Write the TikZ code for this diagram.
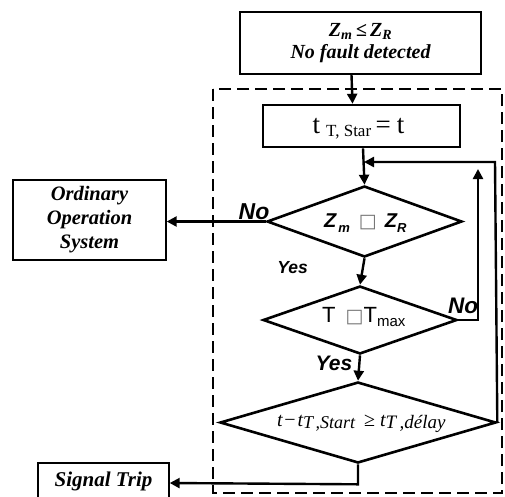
\documentclass[tikz,border=0pt]{standalone}
\usepackage{fontspec}
\setmainfont{Liberation Serif}
\newfontfamily\arial{Liberation Sans}
\newfontfamily\dejavu{DejaVu Sans}
\usetikzlibrary{shapes.geometric,arrows.meta,calc}
\newcommand{\graysq}[1]{{\dejavu\mdseries\upshape\fontsize{#1}{#1}\selectfont\textcolor{black!55}{□}}}
\begin{document}
\begin{tikzpicture}[x=1pt,y=-1pt,
  box/.style={draw,rectangle,inner sep=0pt,align=center},
  dia/.style={draw,diamond,inner sep=0pt,line width=2.6pt},
  arr/.style={line width=2.4pt,-{Triangle[length=10pt,width=10pt]}},
  lab/.style={inner sep=0pt},
  txt/.style={inner sep=0pt,anchor=base west},
  serifbi/.style={font=\fontsize{20}{22}\selectfont\bfseries\itshape}]
\useasboundingbox (0,0) rectangle (505,496);
% dashed frame
\draw[line width=1.8pt,dash pattern=on 12pt off 6pt] (213,89) rectangle (502,493);
% nodes
\node[box,line width=1.6pt,minimum width=241pt,minimum height=62pt,serifbi] (top) at (360.5,43)
  {Z\textsubscript{m}\,≤\,Z\textsubscript{R}\\No fault detected};
\node[box,line width=2.6pt,minimum width=197pt,minimum height=42pt] (tb) at (361.5,126) {};
\node[txt,font=\fontsize{27}{28}\selectfont] (tbt) at (312.5,133)
  {t\hspace{6pt}\raisebox{-3pt}{\fontsize{17}{18}\selectfont T, Star}\hspace{4.5pt}=\hspace{6pt}t};
\node[dia,minimum width=195pt,minimum height=71pt] (d1) at (364.5,221.5) {};
\node[txt,font=\fontsize{20}{21}\selectfont\arial\bfseries\itshape] (d1t) at (324,227)
  {Z\hspace{2pt}\raisebox{-5pt}{\fontsize{13}{14}\selectfont m}\hspace{9pt}\graysq{19}\hspace{8pt}Z\raisebox{-5pt}{\fontsize{13}{14}\selectfont R}};
\node[dia,minimum width=194pt,minimum height=68pt] (d2) at (360,320) {};
\node[txt,font=\fontsize{22}{23}\selectfont\arial] (d2t) at (322,322)
  {T\hspace{10pt}\graysq{19}T\raisebox{-4pt}{\fontsize{15}{16}\selectfont max}};
\node[dia,minimum width=276pt,minimum height=81pt] (d3) at (358,422.5) {};
\node[txt,font=\fontsize{20}{21}\selectfont\itshape] (d3t) at (277,426)
  {t\hspace{1.5pt}{\upshape −}\hspace{2pt}t\raisebox{-2.5pt}{\fontsize{18}{19}\selectfont T\hspace{2.5pt},Start}\hspace{9pt}{\upshape ≥}\hspace{5pt}t\raisebox{-2.5pt}{\fontsize{19}{20}\selectfont T\hspace{3.5pt},délay}};
\node[box,line width=1.4pt,minimum width=153pt,minimum height=80pt,font=\fontsize{20.5}{24}\selectfont\bfseries\itshape] (ord) at (89.5,220)
  {Ordinary\\Operation\\System};
\node[box,line width=1.4pt,minimum width=131pt,minimum height=37pt,font=\fontsize{21}{22}\selectfont\bfseries\itshape] (sig) at (103.5,481.5)
  {\raisebox{3pt}{Signal Trip}};
% labels
\node[lab,font=\arial\bfseries\itshape\fontsize{23}{24}\selectfont] (no1) at (254,212) {No};
\node[lab,font=\arial\bfseries\itshape\fontsize{17.5}{18}\selectfont] (yes1) at (292.5,268) {Yes};
\node[lab,font=\arial\bfseries\itshape\fontsize{22.5}{24}\selectfont] (no2) at (463,306) {No};
\node[lab,font=\arial\bfseries\itshape\fontsize{21}{22}\selectfont] (yes2) at (334,363) {Yes};
% connectors
\coordinate (fbc) at (495,162);
\coordinate (upc) at (478,320);
\coordinate (upt) at (478,169);
\coordinate (fbt) at (364,162);
\draw[arr] ([xshift=-9pt]top.south) -- ([xshift=-9pt]tb.north);
\draw[arr] ([xshift=1.5pt]tb.south) -- (d1.north);
\draw[arr] (d1.west) -- (ord.east |- d1.west);
\draw[arr] (d1.south) -- (d2.north);
\draw[arr] (d2.south) -- (d3.north);
\draw[arr] (d2.east) -- (upc) -- (upt);
\draw[arr] (d3.east) -- (fbc) -- (fbt);
\draw[arr] (d3.south) -- ($(d3.south)+(0,20)$) -- (sig.east |- 0,483);
\end{tikzpicture}
\end{document}
